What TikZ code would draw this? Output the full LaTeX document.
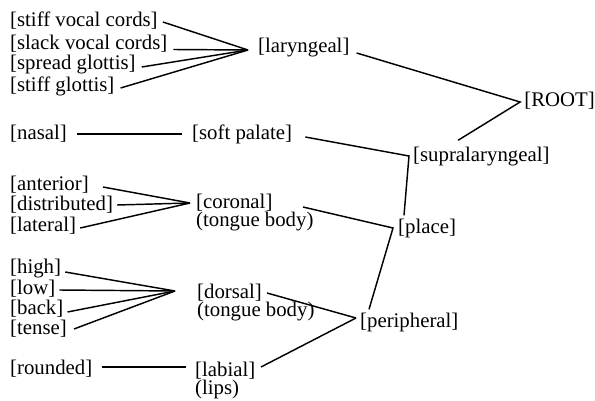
\documentclass[tikz,border=0pt]{standalone}
\usepackage{fontspec}
\setmainfont{Liberation Serif}
\usetikzlibrary{calc}
\begin{document}
\begin{tikzpicture}[x=1pt,y=-1pt,
  lbl/.style={anchor=west,inner sep=0pt,font=\fontsize{20.8}{18.5}\selectfont},
  two/.style={lbl,anchor=base west,align=left},
  edge/.style={line width=1.45pt,black}]
\useasboundingbox (0,0) rectangle (595,401);
% laryngeal group
\node[lbl] (svc) at (10,21) {[stiff vocal cords]};
\node[lbl] (slvc) at (10,43.5) {[slack vocal cords]};
\node[lbl] (spg) at (10,65) {[spread glottis]};
\node[lbl] (stg) at (10,86) {[stiff glottis]};
\node[lbl] (lar) at (258,48) {[laryngeal]};
\node[lbl,anchor=east] (root) at (595,101) {[ROOT]};
% soft palate
\node[lbl] (nasal) at (10,134) {[nasal]};
\node[lbl] (soft) at (192,134) {[soft palate]};
\node[lbl] (supra) at (413,157) {[supralaryngeal]};
% coronal
\node[lbl] (ant) at (10,185) {[anterior]};
\node[lbl] (dist) at (10,205) {[distributed]};
\node[lbl] (lat) at (10,226) {[lateral]};
\node[two] (cor) at (196,226.5) {[coronal]\\(tongue body)};
\node[lbl] (place) at (398,228) {[place]};
% dorsal
\node[lbl] (high) at (10,269) {[high]};
\node[lbl] (low) at (10,289) {[low]};
\node[lbl] (back) at (10,309) {[back]};
\node[lbl] (tense) at (10,329) {[tense]};
\node[two] (dors) at (197,316.5) {[dorsal]\\(tongue body)};
\node[lbl] (peri) at (360,322) {[peripheral]};
% labial
\node[lbl] (round) at (10,369) {[rounded]};
\node[two] (lab) at (195,394.5) {[labial]\\(lips)};
% vertices
\coordinate (vL) at ($(lar.west)+(-10,2)$);
\coordinate (vR) at ($(root.west)+(-4,1)$);
\coordinate (vS) at ($(supra.west)+(-4,-1)$);
\coordinate (vC) at ($(cor.base west)+(-6,-23.5)$);
\coordinate (vP) at ($(place.west)+(-5,0)$);
\coordinate (vD) at ($(dors.base west)+(-22,-25.5)$);
\coordinate (vPe) at ($(peri.west)+(-4,-4)$);
% edges
\draw[edge] ($(svc.east)+(5,1)$) -- (vL);
\draw[edge] ($(slvc.east)+(6,6)$) -- (vL);
\draw[edge] ($(spg.east)+(6,2)$) -- (vL);
\draw[edge] ($(stg.east)+(6,2)$) -- (vL);
\draw[edge] ($(lar.east)+(7,5)$) -- (vR) -- ($(supra.north west)+(45,-7)$);
\draw[edge] ($(nasal.east)+(10,0)$) -- ($(soft.west)+(-10,0)$);
\draw[edge] ($(soft.east)+(13,3)$) -- (vS) -- ($(place.north west)+(6,-3)$);
\draw[edge] ($(ant.east)+(14,2)$) -- (vC);
\draw[edge] ($(dist.east)+(4,0)$) -- (vC);
\draw[edge] ($(lat.east)+(4,2)$) -- (vC);
\draw[edge] ($(cor.base west)+(107,-19.5)$) -- (vP) -- ($(peri.north west)+(9,-3)$);
\draw[edge] ($(high.east)+(4,3)$) -- (vD);
\draw[edge] ($(low.east)+(4,1)$) -- (vD);
\draw[edge] ($(back.east)+(4,3)$) -- (vD);
\draw[edge] ($(tense.east)+(7,0)$) -- (vD);
\draw[edge] ($(dors.base west)+(70,-23.5)$) -- (vPe);
\draw[edge] ($(lab.base west)+(66,-27.5)$) -- (vPe);
\draw[edge] ($(round.east)+(10,-2)$) -- ($(lab.base west)+(-9,-27.5)$);
\end{tikzpicture}
\end{document}
